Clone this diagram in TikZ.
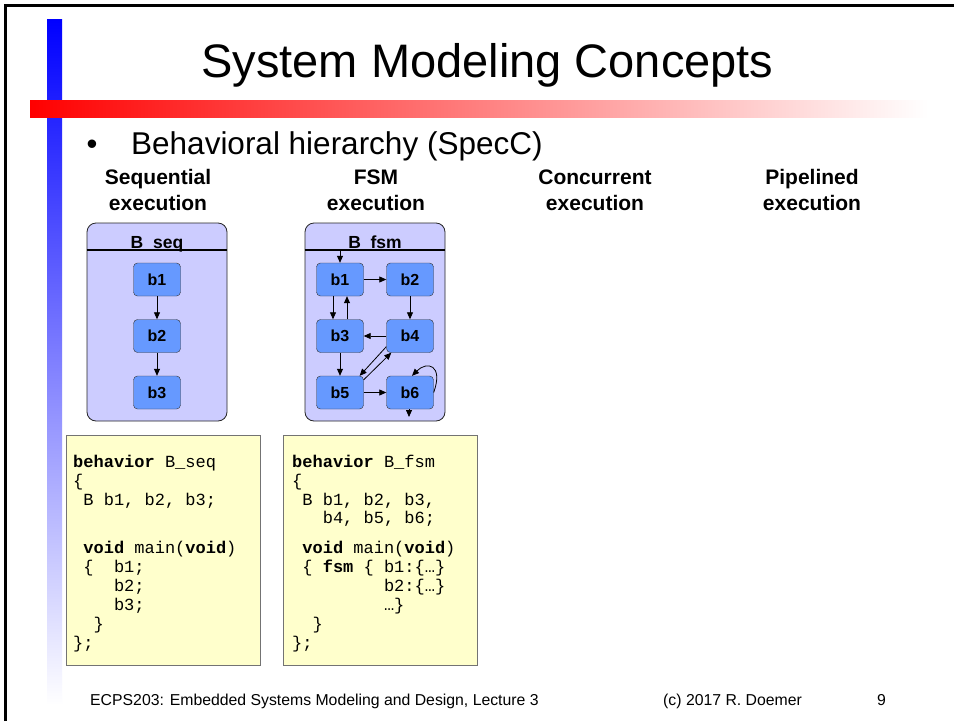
\documentclass[tikz,border=0pt]{standalone}
\usepackage{fontspec}
\setmainfont{Liberation Sans}
\setmonofont{Liberation Mono}
\usetikzlibrary{arrows.meta,positioning}
\definecolor{boxblue}{RGB}{204,204,255}
\definecolor{blkblue}{RGB}{102,153,255}
\definecolor{codeyellow}{RGB}{255,255,204}
\newcommand{\cind}[1]{\hspace*{#1\fontcharwd\font`x}}
\begin{document}
\begin{tikzpicture}[x=1pt,y=-1pt,
    blk/.style={draw=black!80, fill=blkblue, rounded corners=4pt, minimum width=47pt, minimum height=33pt, inner sep=0pt, font=\bfseries\fontsize{16}{16}\selectfont},
    cont/.style={draw=black!85, fill=boxblue, rounded corners=9pt, line width=0.8pt, minimum width=140pt, minimum height=198pt, inner sep=0pt},
    codebox/.style={draw=black!55, fill=codeyellow, line width=0.9pt, minimum width=194pt, minimum height=230pt, inner sep=0pt},
    codeline/.style={anchor=base west, inner sep=0pt, font=\ttfamily\fontsize{17}{17}\selectfont},
    hdr/.style={anchor=base, inner sep=0pt, font=\bfseries\fontsize{21}{21}\selectfont},
    arr/.style={-{Triangle[length=7pt,width=6pt]}, line width=0.8pt}]

            \useasboundingbox (0,0) rectangle (954,721);
            \fill[white] (0,0) rectangle (954,721);
            \draw[line width=3pt] (5,721) -- (5,5) -- (954,5);
            \shade[top color=blue, bottom color=white] (47,19) rectangle (62,705);
            \shade[left color=red, right color=white] (30,100) rectangle (928,117);

            \node (title) at (487.5,77) [anchor=base, inner sep=0pt, font=\fontsize{47}{47}\selectfont] {System Modeling Concepts};
            \node (dot) at (92,154) [anchor=base, inner sep=0pt, font=\fontsize{31}{31}\selectfont] {•};
            \node (bullet) at (131,154) [anchor=base west, inner sep=0pt, font=\fontsize{31.5}{31.5}\selectfont] {Behavioral hierarchy (SpecC)};
            \foreach \x/\a/\b in {158/Sequential/execution, 376/FSM/execution, 595/Concurrent/execution, 812/Pipelined/execution} {
                \node (h\a) at (\x,184) [hdr] {\a};
                \node (e\a) at (\x,210) [hdr] {\b};
            }

            \node (Bseq) at (157,322) [cont] {};
            \node (Bfsm) at (375,322) [cont] {};
            \draw[line width=1.5pt] (Bseq.west |- 0,250) -- (Bseq.east |- 0,250);
            \draw[line width=1.5pt] (Bfsm.west |- 0,250) -- (Bfsm.east |- 0,250);
            \node (lseq) at (157,248) [anchor=base, inner sep=0pt, font=\bfseries\fontsize{17.5}{17.5}\selectfont] {B\_seq};
            \node (lfsm) at (375,248) [anchor=base, inner sep=0pt, font=\bfseries\fontsize{17.5}{17.5}\selectfont] {B\_fsm};

            \foreach \i/\y in {1/279.5, 2/336, 3/392.5} {
                \node (s\i) at (157,\y) [blk] {b\i};
            }
            \draw[arr] (s1) -- (s2);
            \draw[arr] (s2) -- (s3);

            \foreach \i/\x/\y in {1/340/279.5, 2/410/279.5, 3/340/336, 4/410/336, 5/340/392.5, 6/410/392.5} {
                \node (f\i) at (\x,\y) [blk] {b\i};
            }
            \coordinate (fstart) at (340,250);
            \coordinate (fstop) at (409,417);
            \draw[arr] (fstart) -- (f1.north);
            \draw[arr] (f1) -- (f2);
            \draw[arr] ([xshift=-7pt]f1.south) -- ([xshift=-7pt]f3.north);
            \draw[arr] ([xshift=7pt]f3.north) -- ([xshift=7pt]f1.south);
            \draw[arr] (f2) -- (f4);
            \draw[arr] (f4) -- (f3);
            \draw[arr] (f3) -- (f5);
            \draw[arr] ([yshift=6pt]f4.south west) -- ([xshift=-4pt]f5.north east);
            \draw[arr] ([yshift=-4pt]f5.north east) -- ([xshift=5pt]f4.south west);
            \draw[arr] (f5) -- (f6);
            \draw[arr] (f6.east) .. controls ([xshift=10pt,yshift=28pt]f6.east) and ([xshift=17pt,yshift=15pt]f6.north) .. ([xshift=2pt]f6.north);
            \draw[arr] (f6.south -| fstop) -- (fstop);

            \node (cseq) at (163,550) [codebox] {};
            \node (cfsm) at (380.5,550) [codebox] {};
            \foreach \y/\txt in {467/{\textbf{behavior} B\_seq}, 486/\{, 505/{\cind{1}B b1, b2, b3;},
                553/{\cind{1}\textbf{void} main(\textbf{void})}, 572/{\cind{1}\{\cind{2}b1;},
                591/{\cind{4}b2;}, 610/{\cind{4}b3;}, 629/{\cind{2}\}}, 648/{\};}} {
                \node at (73,\y) [codeline] {\txt};
            }
            \foreach \y/\txt in {467/{\textbf{behavior} B\_fsm}, 486/\{, 505/{\cind{1}B b1, b2, b3,},
                523/{\cind{3}b4, b5, b6;}, 553/{\cind{1}\textbf{void} main(\textbf{void})},
                572/{\cind{1}\{ \textbf{fsm} \{ b1:\{…\}}, 591/{\cind{9}b2:\{…\}}, 610/{\cind{9}…\}},
                629/{\cind{2}\}}, 648/{\};}} {
                \node at (292,\y) [codeline] {\txt};
            }

            \node (foot) at (90,705) [anchor=base west, inner sep=0pt, font=\fontsize{15.8}{15.8}\selectfont] {ECPS203: Embedded Systems Modeling and Design, Lecture 3};
            \node (copy) at (663,705) [anchor=base west, inner sep=0pt, font=\fontsize{15.8}{15.8}\selectfont] {(c) 2017 R. Doemer};
            \node (page) at (877,705) [anchor=base west, inner sep=0pt, font=\fontsize{15.8}{15.8}\selectfont] {9};

        \end{tikzpicture}
\end{document}
